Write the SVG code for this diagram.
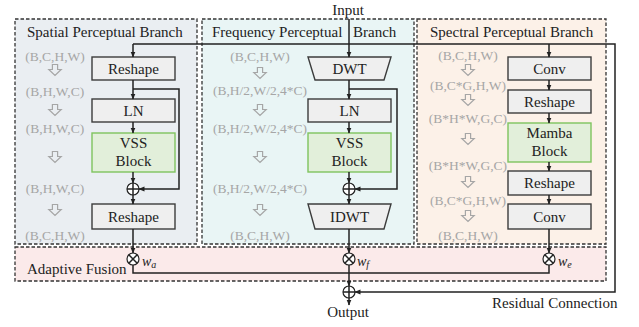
<svg xmlns="http://www.w3.org/2000/svg" width="639" height="327" viewBox="0 0 639 327" font-family="'Liberation Serif', 'DejaVu Serif', serif">
<defs>
<marker id="ah" markerWidth="6" markerHeight="6" refX="5.5" refY="3" orient="auto" markerUnits="userSpaceOnUse">
<path d="M0,0.5 L6,3 L0,5.5 Z" fill="#222"/>
</marker>
<path id="ha" d="M-2.6,-5.5 H2.6 V-0.5 H6.2 L0,5.5 L-6.2,-0.5 H-2.6 Z"/>
</defs>
<style>
text{font-family:'Liberation Serif','DejaVu Serif',serif;fill:#222}
.t{font-size:15px}
.c{text-anchor:middle}
.d{font-size:13.5px;fill:#a6a6a6;text-anchor:middle}
.panel{stroke:#333;stroke-width:1.3;stroke-dasharray:3.5,2}
.box{fill:#efefef;stroke:#3c3c3c;stroke-width:1.4}
.gb{fill:#e2efda;stroke:#7fc45e;stroke-width:1.4}
.ln{fill:none;stroke:#222;stroke-width:1.5}
.ar{fill:none;stroke:#222;stroke-width:1.5;marker-end:url(#ah)}
.hol{fill:none;stroke:#a6a6a6;stroke-width:1.2}
.op{fill:#fff;stroke:#222;stroke-width:1.2}
.w{font-size:14px;font-style:italic}
</style>

<g id="spatial-branch">
<rect class="panel" x="15" y="19" width="182" height="225" fill="#eaeef2"/>
<text class="t" x="27" y="37">Spatial Perceptual Branch</text>
<text class="d" x="55" y="60.5">(B,C,H,W)</text>
<use href="#ha" class="hol" x="55" y="70"/>
<text class="d" x="55" y="95.5">(B,H,W,C)</text>
<use href="#ha" class="hol" x="55" y="110"/>
<text class="d" x="55" y="133">(B,H,W,C)</text>
<use href="#ha" class="hol" x="55" y="157"/>
<text class="d" x="55" y="193">(B,H,W,C)</text>
<use href="#ha" class="hol" x="55" y="210"/>
<text class="d" x="55" y="239.5">(B,C,H,W)</text>
</g>

<g id="frequency-branch">
<rect class="panel" x="202" y="19" width="212" height="225" fill="#e9f5f5"/>
<text class="t" x="212" y="37">Frequency Perceptual</text>
<text class="t" x="353" y="37">Branch</text>
<text class="d" x="260" y="60.5">(B,C,H,W)</text>
<use href="#ha" class="hol" x="260" y="73"/>
<text class="d" x="260" y="95">(B,H/2,W/2,4*C)</text>
<use href="#ha" class="hol" x="260" y="110"/>
<text class="d" x="260" y="133">(B,H/2,W/2,4*C)</text>
<use href="#ha" class="hol" x="260" y="157"/>
<text class="d" x="260" y="193">(B,H/2,W/2,4*C)</text>
<use href="#ha" class="hol" x="260" y="210"/>
<text class="d" x="260" y="239.5">(B,C,H,W)</text>
</g>

<g id="spectral-branch">
<rect class="panel" x="417" y="19" width="189" height="225" fill="#fcf1e8"/>
<text class="t" x="430" y="37">Spectral Perceptual Branch</text>
<text class="d" x="468" y="59.5">(B,C,H,W)</text>
<use href="#ha" class="hol" x="468" y="70"/>
<text class="d" x="468" y="89.5">(B,C*G,H,W)</text>
<use href="#ha" class="hol" x="468" y="100"/>
<text class="d" x="468" y="122.5">(B*H*W,G,C)</text>
<use href="#ha" class="hol" x="468" y="139"/>
<text class="d" x="468" y="169.5">(B*H*W,G,C)</text>
<use href="#ha" class="hol" x="468" y="182"/>
<text class="d" x="468" y="204.5">(B,C*G,H,W)</text>
<use href="#ha" class="hol" x="468" y="216"/>
<text class="d" x="468" y="239.5">(B,C,H,W)</text>
</g>

<g id="adaptive-fusion">
<rect class="panel" x="15" y="247" width="591" height="34" fill="#fbeaea"/>
<text class="t" x="27" y="274">Adaptive Fusion</text>
</g>

<g id="s-reshape1"><rect class="box" x="92" y="57" width="83" height="23"/><text class="t c" x="133.5" y="73.5">Reshape</text></g>
<g id="s-ln"><rect class="box" x="92" y="99" width="83" height="23"/><text class="t c" x="133.5" y="115.5">LN</text></g>
<g id="s-vss"><rect class="gb" x="92" y="133" width="83" height="39"/><text class="t c" x="133.5" y="148">VSS</text><text class="t c" x="133.5" y="166">Block</text></g>
<g id="s-add"><circle class="op" cx="133" cy="189" r="6"/><path class="ln" d="M127,189 H139 M133,183 V195" stroke-width="1.1"/></g>
<g id="s-reshape2"><rect class="box" x="92" y="204" width="83" height="25"/><text class="t c" x="133.5" y="221.5">Reshape</text></g>

<g id="f-dwt"><path class="box" d="M308,57 H391 L384,80 H315 Z"/><text class="t c" x="349.5" y="73.5">DWT</text></g>
<g id="f-ln"><rect class="box" x="308" y="99" width="83" height="23"/><text class="t c" x="349.5" y="115.5">LN</text></g>
<g id="f-vss"><rect class="gb" x="308" y="133" width="83" height="39"/><text class="t c" x="349.5" y="148">VSS</text><text class="t c" x="349.5" y="166">Block</text></g>
<g id="f-add"><circle class="op" cx="349" cy="189" r="6"/><path class="ln" d="M343,189 H355 M349,183 V195" stroke-width="1.1"/></g>
<g id="f-idwt"><path class="box" d="M308,204 H391 L384,229 H315 Z"/><text class="t c" x="349.5" y="221.5">IDWT</text></g>

<g id="e-conv1"><rect class="box" x="508" y="57" width="83" height="23"/><text class="t c" x="549.5" y="73.5">Conv</text></g>
<g id="e-reshape1"><rect class="box" x="508" y="90" width="83" height="23"/><text class="t c" x="549.5" y="106.5">Reshape</text></g>
<g id="e-mamba"><rect class="gb" x="508" y="123" width="83" height="39"/><text class="t c" x="549.5" y="138">Mamba</text><text class="t c" x="549.5" y="156">Block</text></g>
<g id="e-reshape2"><rect class="box" x="508" y="171" width="83" height="24"/><text class="t c" x="549.5" y="188">Reshape</text></g>
<g id="e-conv2"><rect class="box" x="508" y="204" width="83" height="25"/><text class="t c" x="549.5" y="221.5">Conv</text></g>

<g id="mul-a"><circle class="op" cx="133" cy="259" r="6"/><path class="ln" d="M128.8,254.8 L137.2,263.2 M137.2,254.8 L128.8,263.2" stroke-width="1.1"/><text class="w" x="142" y="266">w<tspan font-size="10" dy="2">a</tspan></text></g>
<g id="mul-f"><circle class="op" cx="349" cy="259" r="6"/><path class="ln" d="M344.8,254.8 L353.2,263.2 M353.2,254.8 L344.8,263.2" stroke-width="1.1"/><text class="w" x="357" y="266">w<tspan font-size="10" dy="2">f</tspan></text></g>
<g id="mul-e"><circle class="op" cx="549" cy="259" r="6"/><path class="ln" d="M544.8,254.8 L553.2,263.2 M553.2,254.8 L544.8,263.2" stroke-width="1.1"/><text class="w" x="558" y="266">w<tspan font-size="10" dy="2">e</tspan></text></g>

<g id="out-add"><circle class="op" cx="349" cy="292" r="6"/><path class="ln" d="M343,292 H355 M349,286 V298" stroke-width="1.1"/></g>

<g id="labels">
<text class="t c" x="348" y="15">Input</text>
<text class="t c" x="348" y="317">Output</text>
<text class="t" x="492" y="308">Residual Connection</text>
</g>

<g id="connectors">
<path class="ar" d="M349,19 V57"/>
<path class="ar" d="M133,44 V57"/>
<path class="ar" d="M549,44 V57"/>
<path class="ar" d="M133,44 H615 V292 H355"/>
<path class="ar" d="M133,80 V99"/>
<path class="ar" d="M133,89 H179 V189 H139"/>
<path class="ar" d="M133,122 V133"/>
<path class="ar" d="M133,172 V183"/>
<path class="ar" d="M133,195 V204"/>
<path class="ar" d="M133,229 V253"/>
<path class="ln" d="M133,265 V273 H349"/>
<path class="ar" d="M349,80 V99"/>
<path class="ar" d="M349,89 H397 V189 H355"/>
<path class="ar" d="M349,122 V133"/>
<path class="ar" d="M349,172 V183"/>
<path class="ar" d="M349,195 V204"/>
<path class="ar" d="M349,229 V253"/>
<path class="ar" d="M349,265 V286"/>
<path class="ln" d="M549,265 V273 H349"/>
<path class="ar" d="M349,298 V305"/>
<path class="ar" d="M549,80 V90"/>
<path class="ar" d="M549,113 V123"/>
<path class="ar" d="M549,162 V171"/>
<path class="ar" d="M549,195 V204"/>
<path class="ar" d="M549,229 V253"/>
</g>
</svg>
